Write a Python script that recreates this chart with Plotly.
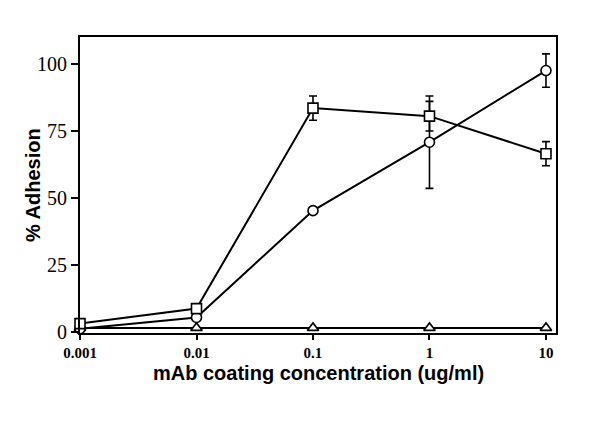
import plotly.graph_objects as go

conc = [0.001, 0.01, 0.1, 1, 10]
x_tick_labels = ["0.001", "0.01", "0.1", "1", "10"]
y_ticks = [0, 25, 50, 75, 100]

square_vals = [3.2, 8.8, 83.5, 80.5, 66.5]
square_err = [0, 0, 4.5, 5.5, 4.5]
circle_vals = [1.3, 5.5, 45.3, 70.8, 97.5]
circle_err = [0, 0, 0, 17.2, 6.2]
triangle_vals = [1.6, 1.6, 1.6, 1.6, 1.6]

fig = go.Figure()

def add_series(y, err, symbol, size):
    fig.add_trace(go.Scatter(
        x=conc, y=y, mode="lines+markers",
        line=dict(color="black", width=2),
        marker=dict(symbol=symbol, size=size, color="white",
                    line=dict(color="black", width=1.6)),
        error_y=dict(type="data", array=err, visible=True,
                     color="black", thickness=1.6, width=4) if err else None,
        cliponaxis=False, showlegend=False,
    ))

add_series(triangle_vals, None, "triangle-up", 10)
add_series(circle_vals, circle_err, "circle", 10)
add_series(square_vals, square_err, "square", 10)

fig.update_layout(
    width=600, height=438,
    margin=dict(l=72, r=52, t=29, b=113),
    paper_bgcolor="white", plot_bgcolor="white",
    xaxis=dict(
        type="log", range=[-3, 1.086],
        tickvals=conc, ticktext=x_tick_labels,
        ticks="outside", ticklen=5, tickwidth=1.5, tickcolor="black",
        showline=True, linecolor="black", linewidth=1.8, mirror=True,
        showgrid=False, zeroline=False,
        tickfont=dict(family="Liberation Serif", size=15, color="black", weight="bold"),
    ),
    yaxis=dict(
        range=[-0.3, 110],
        tickvals=y_ticks,
        ticks="outside", ticklen=7, tickwidth=1.5, tickcolor="black",
        showline=True, linecolor="black", linewidth=1.8, mirror=True,
        showgrid=False, zeroline=False,
        tickfont=dict(family="Liberation Serif", size=20, color="black"),
    ),
    annotations=[
        dict(text="mAb coating concentration (ug/ml)", xref="paper", yref="paper",
             x=0.5, y=0, yshift=-40, xanchor="center", yanchor="middle", showarrow=False,
             font=dict(family="Liberation Sans", size=20, color="black", weight="bold")),
        dict(text="% Adhesion", xref="paper", yref="paper", textangle=-90,
             x=0, y=0.5, xshift=-47, xanchor="center", yanchor="middle", showarrow=False,
             font=dict(family="Liberation Sans", size=20, color="black", weight="bold")),
    ],
)

fig.write_html("out.html")
